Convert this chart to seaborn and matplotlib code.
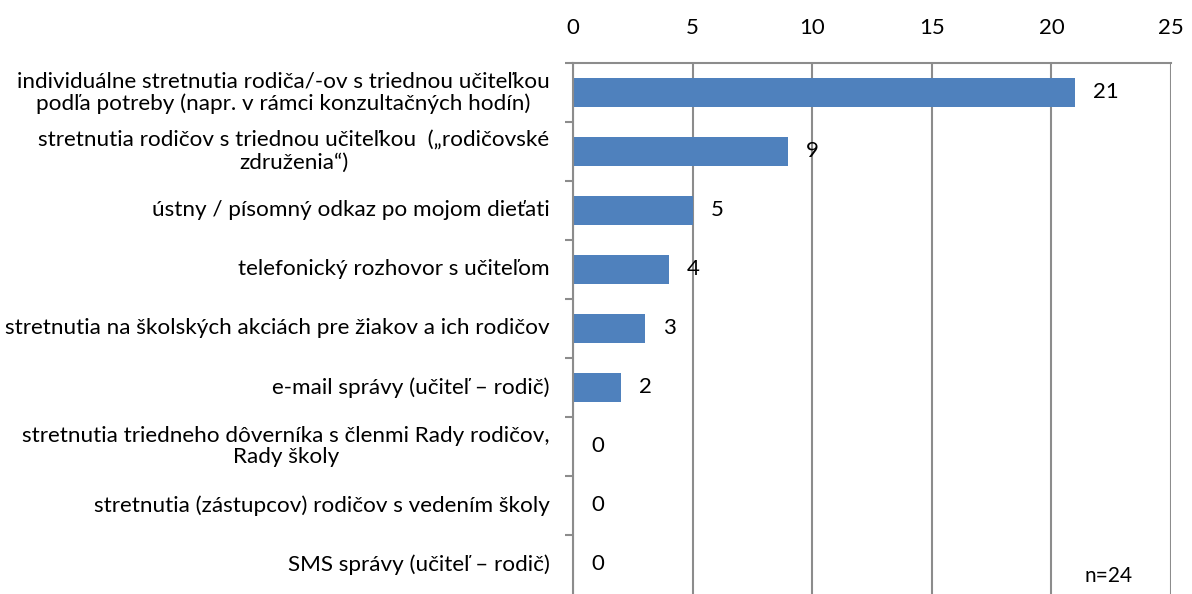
import matplotlib
matplotlib.use('Agg')
import matplotlib.pyplot as plt
import seaborn as sns
import numpy as np

# Data
categories = [
    'individuálne stretnutia rodiča/-ov s triednou učiteľkou\npodľa potreby (napr. v rámci konzultačných hodín)',
    'stretnutia rodičov s triednou učiteľkou  („rodičovské\nzdruženia“)',
    'ústny / písomný odkaz po mojom dieťati',
    'telefonický rozhovor s učiteľom',
    'stretnutia na školských akciách pre žiakov a ich rodičov',
    'e-mail správy (učiteľ – rodič)',
    'stretnutia triedneho dôverníka s členmi Rady rodičov,\nRady školy',
    'stretnutia (zástupcov) rodičov s vedením školy',
    'SMS správy (učiteľ – rodič)',
]
values = [21, 9, 5, 4, 3, 2, 0, 0, 0]
x_ticks = [0, 5, 10, 15, 20, 25]
note = 'n=24'

sns.set_style('white')
plt.rcParams['font.family'] = ['Lato', 'DejaVu Sans']
plt.rcParams['text.color'] = 'black'
plt.rcParams['xtick.color'] = 'black'
plt.rcParams['ytick.color'] = 'black'

BAR = '#4F81BD'
GRID = '#8C8C8C'
DPI = 100

fig = plt.figure(figsize=(11.92, 5.94), dpi=DPI)
ax = fig.add_axes([0.4807, 0.0, 0.5017, 0.894])

sns.barplot(x=values, y=categories, color=BAR, width=0.5, orient='h', ax=ax,
            saturation=1, linewidth=0, zorder=3)

ax.set_xlim(0, 25)
ax.set_xticks(x_ticks)
ax.xaxis.tick_top()
ax.tick_params(axis='x', length=0, pad=18, labelsize=16, labelcolor='black')
ax.grid(axis='x', color=GRID, linewidth=1.5, zorder=0)
ax.set_xlabel('')
ax.set_ylabel('')

# category boundary ticks on the left spine; labels drawn as centred text blocks
ax.set_yticks(np.arange(len(categories)) - 0.5, minor=True)
ax.tick_params(axis='y', which='minor', length=6, color=GRID, width=1.5, left=True)
ax.tick_params(axis='y', which='major', length=0, labelleft=False)

PAD = 17  # points between label block and axis
labels = []
for i, lab in enumerate(categories):
    t = ax.annotate(lab, (0, i), xycoords=ax.get_yaxis_transform(),
                    xytext=(-PAD, 0), textcoords='offset points',
                    ha='right', va='center', linespacing=1.12,
                    fontsize=16.2, color='black', annotation_clip=False)
    labels.append(t)

# right-align each block but centre its lines
fig.canvas.draw()
renderer = fig.canvas.get_renderer()
for t in labels:
    w_pt = t.get_window_extent(renderer).width * 72 / DPI
    t.set_horizontalalignment('center')
    t.set_multialignment('center')
    t.set_position((-PAD - w_pt / 2, 0))

for side in ['right', 'bottom']:
    ax.spines[side].set_visible(False)
for side in ['top', 'left']:
    ax.spines[side].set_color(GRID)
    ax.spines[side].set_linewidth(1.5)
    ax.spines[side].set_zorder(5)

# value labels
for i, v in enumerate(values):
    ax.annotate(str(v), (v, i), xytext=(13, 0), textcoords='offset points',
                va='center', ha='left', fontsize=16, color='black')

ax.text(22.4, 8.2, note, fontsize=15, ha='center', va='center', color='black')

fig.savefig('out.png', dpi=DPI)
